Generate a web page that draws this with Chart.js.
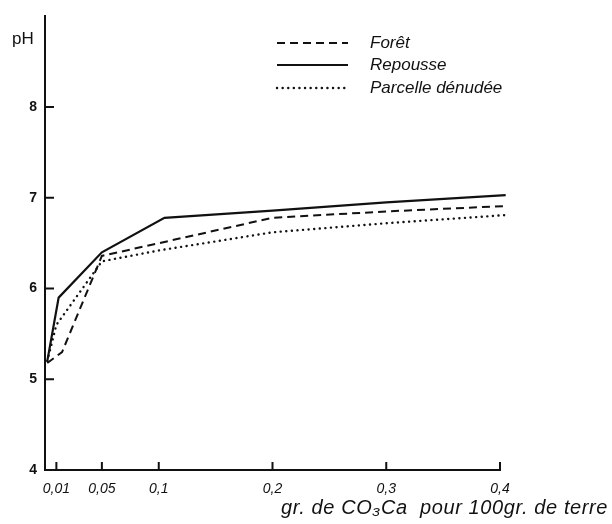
<!DOCTYPE html>
<html>
<head>
<meta charset="utf-8">
<script src="https://cdn.jsdelivr.net/npm/chart.js@4/dist/chart.umd.min.js"></script>
<style>
  html, body { margin: 0; padding: 0; background: #fff; }
  #wrap { width: 612px; height: 524px; }
</style>
</head>
<body>
<div id="wrap"><canvas id="chart" width="612" height="524"></canvas></div>
<script>
// Données
const xForet = [0.002, 0.015, 0.05, 0.1, 0.2, 0.3, 0.405];
const yForet = [5.18, 5.3, 6.36, 6.5, 6.78, 6.85, 6.91];

const xRepousse = [0.002, 0.012, 0.05, 0.105, 0.2, 0.3, 0.405];
const yRepousse = [5.2, 5.9, 6.4, 6.78, 6.86, 6.95, 7.03];

const xParcelle = [0.002, 0.01, 0.05, 0.1, 0.2, 0.3, 0.405];
const yParcelle = [5.2, 5.6, 6.3, 6.42, 6.62, 6.72, 6.81];

const xTicks = [0.01, 0.05, 0.1, 0.2, 0.3, 0.4];
const xTickLabels = ['0,01', '0,05', '0,1', '0,2', '0,3', '0,4'];
const yTicks = [4, 5, 6, 7, 8];

const ink = '#111';

function toPoints(xs, ys) {
  return xs.map((x, i) => ({ x: x, y: ys[i] }));
}

// Petits traits de graduation tournés vers l'intérieur
const innerTicks = {
  id: 'innerTicks',
  afterDraw(chart) {
    const { ctx, scales } = chart;
    const xs = scales.x, ys = scales.y;
    ctx.save();
    ctx.strokeStyle = ink;
    ctx.lineWidth = 2;
    ctx.beginPath();
    xTicks.forEach((v) => {
      const px = xs.getPixelForValue(v);
      ctx.moveTo(px, ys.bottom);
      ctx.lineTo(px, ys.bottom - 8);
    });
    yTicks.slice(1).forEach((v) => {
      const py = ys.getPixelForValue(v);
      ctx.moveTo(xs.left, py);
      ctx.lineTo(xs.left + 9, py);
    });
    ctx.stroke();
    ctx.restore();
  },
};

// Légende et titres d'axes
const annotations = {
  id: 'annotations',
  afterDraw(chart) {
    const { ctx } = chart;
    ctx.save();
    ctx.fillStyle = ink;
    ctx.textBaseline = 'alphabetic';

    ctx.font = '17px "Liberation Sans", Arial, sans-serif';
    ctx.textAlign = 'left';
    ctx.fillText('pH', 12, 44);

    ctx.font = 'italic 20px "Liberation Sans", Arial, sans-serif';
    ctx.letterSpacing = '0.6px';
    ctx.textAlign = 'right';
    ctx.fillText('gr. de CO\u2083Ca  pour 100gr. de terre', 608, 514);
    ctx.letterSpacing = '0px';

    const rows = [48, 70, 93];
    chart.data.datasets.forEach((ds, i) => {
      const y = rows[i] - 5;
      ctx.strokeStyle = ink;
      ctx.lineWidth = ds.borderWidth;
      ctx.lineCap = ds.borderCapStyle || 'butt';
      ctx.setLineDash(ds.borderDash || []);
      ctx.beginPath();
      ctx.moveTo(277, y);
      ctx.lineTo(348, y);
      ctx.stroke();
      ctx.setLineDash([]);
      ctx.font = 'italic 17px "Liberation Sans", Arial, sans-serif';
      ctx.textAlign = 'left';
      ctx.fillText(ds.label, 370, rows[i]);
    });
    ctx.restore();
  },
};

new Chart(document.getElementById('chart'), {
  type: 'line',
  data: {
    datasets: [
      {
        label: 'Forêt',
        data: toPoints(xForet, yForet),
        borderColor: ink,
        borderWidth: 2,
        borderDash: [8, 5],
        pointRadius: 0,
        tension: 0,
        clip: false,
      },
      {
        label: 'Repousse',
        data: toPoints(xRepousse, yRepousse),
        borderColor: ink,
        borderWidth: 2.2,
        pointRadius: 0,
        tension: 0,
        clip: false,
      },
      {
        label: 'Parcelle dénudée',
        data: toPoints(xParcelle, yParcelle),
        borderColor: ink,
        borderWidth: 2.4,
        borderDash: [0.1, 5.5],
        borderCapStyle: 'round',
        pointRadius: 0,
        tension: 0,
        clip: false,
      },
    ],
  },
  options: {
    responsive: false,
    animation: false,
    layout: { padding: { top: 11, right: 112, left: 0, bottom: 0 } },
    plugins: { legend: { display: false }, tooltip: { enabled: false } },
    scales: {
      x: {
        type: 'linear',
        min: 0,
        max: 0.4,
        afterBuildTicks: (scale) => {
          scale.ticks = xTicks.map((v) => ({ value: v }));
        },
        afterFit: (scale) => { scale.height = 54; },
        grid: { display: false, drawTicks: false },
        border: { display: true, color: ink, width: 2 },
        ticks: {
          padding: 11,
          color: ink,
          maxRotation: 0,
          autoSkip: false,
          font: { family: '"Liberation Sans", Arial, sans-serif', size: 14, style: 'italic' },
          callback: (v) => {
            const i = xTicks.indexOf(v);
            return i >= 0 ? xTickLabels[i] : '';
          },
        },
      },
      y: {
        type: 'linear',
        min: 4,
        max: 9,
        afterBuildTicks: (scale) => {
          scale.ticks = yTicks.map((v) => ({ value: v }));
        },
        afterFit: (scale) => { scale.width = 45; },
        grid: { display: false, drawTicks: false },
        border: { display: true, color: ink, width: 2 },
        ticks: {
          padding: 8,
          color: ink,
          font: { family: '"Liberation Sans", Arial, sans-serif', size: 14, weight: 'bold' },
        },
      },
    },
  },
  plugins: [innerTicks, annotations],
});
</script>
</body>
</html>
